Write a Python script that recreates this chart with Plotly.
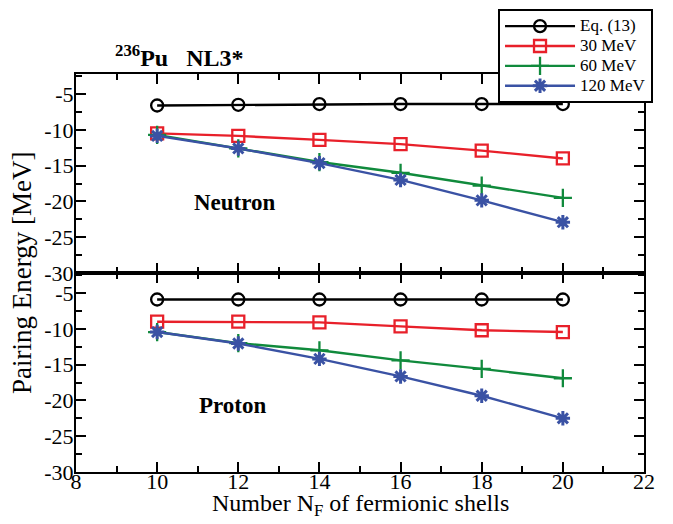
import plotly.graph_objects as go

# ---------------- data ----------------
nf = [10, 12, 14, 16, 18, 20]

neutron_eq13 = [-6.6, -6.5, -6.4, -6.4, -6.4, -6.4]
neutron_30 = [-10.5, -10.85, -11.4, -12.0, -12.9, -14.0]
neutron_60 = [-10.7, -12.6, -14.5, -16.0, -17.8, -19.5]
neutron_120 = [-10.85, -12.6, -14.65, -17.0, -19.85, -22.9]

proton_eq13 = [-5.9, -5.9, -5.9, -5.9, -5.9, -5.9]
proton_30 = [-9.0, -9.0, -9.1, -9.65, -10.2, -10.45]
proton_60 = [-10.45, -12.0, -13.0, -14.4, -15.6, -16.9]
proton_120 = [-10.45, -12.05, -14.2, -16.65, -19.35, -22.5]

series_names = ["Eq. (13)", "30 MeV", "60 MeV", "120 MeV"]

x_ticks = [8, 10, 12, 14, 16, 18, 20, 22]
y_ticks = [-30, -25, -20, -15, -10, -5]

# ---------------- styles ----------------
FONT = "Liberation Serif"
styles = [
    dict(color="black", symbol="circle-open", size=12, lw=2.3),
    dict(color="#e8202a", symbol="square-open", size=12, lw=2.3),
    dict(color="#108a3c", symbol="cross-thin-open", size=13, lw=2.3),
    dict(color="#3a52a4", symbol="asterisk-open", size=12, lw=3),
]

fig = go.Figure()

panels = [
    ([neutron_eq13, neutron_30, neutron_60, neutron_120], "x", "y", True),
    ([proton_eq13, proton_30, proton_60, proton_120], "x2", "y2", False),
]

for data, xa, ya, show in panels:
    for name, vals, st in zip(series_names, data, styles):
        fig.add_trace(go.Scatter(
            x=nf, y=vals,
            name=('<span style="font-size:17px;font-family:\'Liberation Serif\'">'
                  + name + '</span>'),
            mode="lines+markers",
            xaxis=xa, yaxis=ya, showlegend=show,
            line=dict(color=st["color"], width=2.4),
            marker=dict(symbol=st["symbol"], size=st["size"],
                        color=st["color"],
                        line=dict(color=st["color"], width=st["lw"])),
        ))

axis_common = dict(
    showline=True, linecolor="black", linewidth=2.2, mirror="allticks",
    ticks="inside", ticklen=10, tickwidth=2, tickcolor="black",
    showgrid=False, zeroline=False, automargin=False,
    tickfont=dict(family=FONT, size=22, color="black"),
)

xcommon = dict(axis_common, range=[8, 22], tickvals=x_ticks,
               minor=dict(dtick=1, ticks="inside", ticklen=6, tickwidth=2,
                          tickcolor="black", showgrid=False))
ycommon = dict(axis_common, range=[-30, -2.2], tickvals=y_ticks,
               ticktext=[str(v) for v in y_ticks],
               minor=dict(tick0=0, dtick=2.5, ticks="inside", ticklen=6,
                          tickwidth=2, tickcolor="black", showgrid=False))

fig.update_layout(
    width=673, height=524,
    margin=dict(l=76, r=29, t=74, b=52, autoexpand=False),
    paper_bgcolor="white", plot_bgcolor="white",
    font=dict(family=FONT, color="black"),
    xaxis=dict(xcommon, anchor="y", domain=[0, 1], showticklabels=False),
    yaxis=dict(ycommon, anchor="x", domain=[0.5, 1], ticklabelstandoff=-4),
    xaxis2=dict(xcommon, anchor="y2", domain=[0, 1], matches="x",
                ticklabelstandoff=-12),
    yaxis2=dict(ycommon, anchor="x2", domain=[0, 0.5], ticklabelstandoff=-4),
    legend=dict(
        x=0.743, y=1.163, xanchor="left", yanchor="top",
        bgcolor="white", bordercolor="black", borderwidth=2,
        font=dict(family=FONT, size=13, color="black"),
        itemwidth=70, tracegroupgap=0,
    ),
    showlegend=True,
)

annotations = [
    dict(text="<b><sup>236</sup>Pu\u00a0\u00a0\u00a0NL3*</b>", xref="paper", yref="paper",
         x=0.066, y=1.045, xanchor="left", yanchor="middle", showarrow=False,
         font=dict(family=FONT, size=24, color="black")),
    dict(text="<b>Neutron</b>", xref="x", yref="y", x=11.92, y=-20.1,
         showarrow=False, font=dict(family=FONT, size=23, color="black")),
    dict(text="<b>Proton</b>", xref="x2", yref="y2", x=11.88, y=-20.76,
         showarrow=False, font=dict(family=FONT, size=23, color="black")),
    dict(text="Number N<sub>F</sub> of fermionic shells", xref="paper", yref="paper",
         x=0.5, y=-0.084, xanchor="center", yanchor="middle", showarrow=False,
         font=dict(family=FONT, size=24, color="black")),
    dict(text="Pairing Energy [MeV]", xref="paper", yref="paper",
         x=-0.095, y=0.5, xanchor="center", yanchor="middle", showarrow=False,
         textangle=-90, font=dict(family=FONT, size=27, color="black")),
]
fig.update_layout(annotations=annotations)

fig.write_html("out.html", config={"displayModeBar": False},
               post_script="document.body.style.margin='0';")
